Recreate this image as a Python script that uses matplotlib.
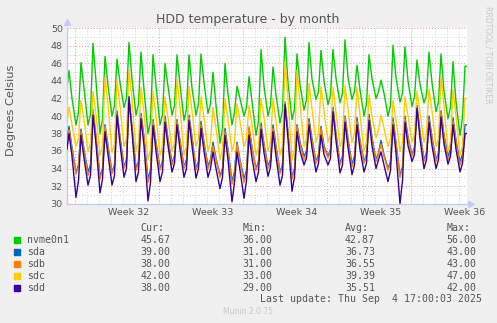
import numpy as np
import pandas as pd
import matplotlib
matplotlib.use("Agg")
import matplotlib.pyplot as plt

# graph window (munin "by month")
start = pd.Timestamp("2025-08-02 09:00")
end = pd.Timestamp("2025-09-04 17:00")

weeks = [32, 33, 34, 35, 36]
yticks = [30, 32, 34, 36, 38, 40, 42, 44, 46, 48, 50]

names = ["nvme0n1", "sda", "sdb", "sdc", "sdd"]
colors = ["#00CC00", "#0066B3", "#FF8000", "#FFCC00", "#330099"]

# daily readings: afternoon high (13:00), evening (19:00), night low (03:00), morning (08:00)
nvme_peak = [45.2, 46.1, 48.3, 46.8, 46.5, 48.4, 47.3, 47.0, 46.0, 47.0, 47.0, 47.1,
             45.0, 46.0, 43.4, 44.5, 47.6, 45.6, 49.0, 47.1, 48.4, 47.5, 47.6, 48.7,
             45.8, 47.0, 44.1, 48.1, 47.9, 46.4, 47.3, 47.1, 46.2, 45.7]
nvme_eve = [42.0, 43.2, 44.0, 43.5, 43.8, 44.2, 43.0, 43.5, 43.4, 43.6, 43.2, 43.8,
            41.2, 42.5, 42.0, 41.6, 43.4, 42.4, 43.8, 43.6, 44.2, 44.0, 44.3, 44.4,
            43.0, 44.3, 42.6, 44.4, 44.0, 43.6, 43.8, 42.8, 41.6]
nvme_low = [39.0, 39.0, 38.0, 40.0, 41.0, 40.1, 38.0, 39.0, 40.1, 39.5, 40.1, 40.3,
            36.9, 39.0, 40.0, 37.8, 40.0, 39.2, 39.6, 40.7, 41.9, 41.3, 41.5, 41.9,
            40.0, 42.0, 40.0, 41.6, 41.1, 41.5, 40.5, 39.7, 37.8]
nvme_morn = [40.4, 40.2, 39.6, 41.2, 42.0, 41.4, 39.4, 40.2, 41.2, 40.8, 41.4, 41.4,
             38.6, 40.4, 41.0, 39.4, 41.2, 40.6, 40.8, 41.8, 42.8, 42.4, 42.6, 42.8,
             41.4, 42.8, 41.2, 42.6, 42.2, 42.4, 41.6, 41.0, 39.8]

sda_peak = [38.8, 38.5, 40.6, 39.0, 40.6, 41.8, 40.3, 39.6, 40.0, 39.6, 40.1, 39.4,
            37.0, 38.6, 37.0, 38.6, 39.2, 39.0, 41.6, 39.0, 39.7, 38.8, 41.0, 40.0,
            39.8, 40.2, 37.2, 39.8, 40.0, 41.2, 40.0, 40.6, 39.8, 39.0]
sda_eve = [36.4, 36.2, 37.6, 36.6, 37.6, 38.8, 37.6, 37.0, 37.4, 37.2, 37.6, 37.0,
           35.2, 36.2, 35.0, 36.4, 36.8, 36.6, 38.2, 37.0, 37.4, 36.6, 38.0, 37.4,
           37.2, 37.6, 35.6, 37.0, 37.6, 38.2, 37.6, 37.8, 37.2]
sda_low = [33.5, 33.6, 33.0, 33.6, 34.2, 34.0, 32.8, 34.0, 34.6, 34.2, 34.0, 34.3,
           33.2, 32.5, 32.8, 34.0, 34.3, 33.6, 33.0, 35.4, 34.8, 35.4, 34.6, 34.5,
           34.8, 35.0, 34.0, 33.2, 35.6, 35.0, 35.0, 35.4, 34.8]
sda_morn = [34.4, 34.4, 34.0, 34.4, 35.0, 34.8, 33.8, 34.8, 35.4, 35.0, 34.8, 35.0,
            34.0, 33.6, 33.8, 34.8, 35.0, 34.4, 34.0, 36.0, 35.6, 36.2, 35.4, 35.4,
            35.6, 35.8, 34.8, 34.2, 36.4, 35.8, 35.8, 36.2, 35.6]

sdb_peak = [38.4, 38.2, 40.8, 38.8, 40.2, 42.0, 40.0, 39.4, 39.6, 39.4, 39.8, 39.0,
            36.6, 38.2, 36.8, 38.8, 38.8, 38.6, 41.4, 38.8, 39.4, 38.6, 40.8, 39.8,
            39.4, 39.8, 36.8, 39.4, 39.6, 41.0, 39.6, 40.4, 39.4, 38.0]
sdb_eve = [36.2, 36.0, 37.6, 36.4, 37.4, 38.6, 37.4, 36.8, 37.2, 37.0, 37.4, 36.8,
           35.0, 36.0, 34.8, 36.4, 36.6, 36.4, 38.0, 36.8, 37.2, 36.4, 37.8, 37.2,
           37.0, 37.4, 35.4, 36.8, 37.4, 38.0, 37.4, 37.6, 37.0]
sdb_low = [33.4, 33.2, 32.8, 33.4, 34.0, 33.8, 32.4, 33.8, 34.4, 34.0, 33.8, 34.0,
           33.0, 32.2, 32.4, 33.8, 34.0, 33.4, 32.8, 35.0, 34.6, 35.2, 34.4, 34.2,
           34.6, 34.8, 33.8, 33.0, 35.4, 34.8, 34.8, 35.0, 34.4]
sdb_morn = [34.2, 34.0, 33.8, 34.2, 34.8, 34.6, 33.4, 34.6, 35.2, 34.8, 34.6, 34.8,
            33.8, 33.2, 33.4, 34.6, 34.8, 34.2, 33.8, 35.8, 35.4, 36.0, 35.2, 35.0,
            35.4, 35.6, 34.6, 34.0, 36.2, 35.6, 35.6, 35.8, 35.2]

sdc_peak = [41.0, 41.8, 42.8, 44.5, 44.1, 45.3, 43.3, 42.8, 42.2, 44.2, 43.4, 42.2,
            41.0, 42.0, 41.4, 41.2, 42.0, 42.0, 46.2, 45.2, 43.7, 43.4, 43.3, 43.5,
            43.3, 42.4, 40.1, 41.8, 42.2, 42.8, 43.1, 44.5, 43.0, 42.0]
sdc_eve = [39.0, 39.6, 40.2, 41.4, 41.2, 41.8, 40.4, 40.0, 39.8, 41.0, 40.6, 39.8,
           38.6, 39.6, 39.4, 39.0, 39.8, 39.4, 42.0, 41.6, 40.8, 40.6, 40.4, 40.8,
           40.2, 40.0, 38.6, 39.6, 40.0, 40.4, 40.6, 41.2, 40.0]
sdc_low = [36.5, 36.0, 35.5, 35.8, 36.5, 36.0, 35.0, 35.5, 36.0, 35.5, 36.5, 36.0,
           35.0, 36.0, 36.5, 35.5, 36.0, 35.5, 35.0, 36.5, 37.0, 37.0, 36.5, 37.0,
           36.0, 37.5, 36.5, 36.0, 37.0, 37.0, 36.5, 36.0, 35.5]
sdc_morn = [37.4, 37.0, 36.6, 36.8, 37.4, 37.0, 36.2, 36.6, 37.0, 36.6, 37.4, 37.0,
            36.2, 37.0, 37.4, 36.6, 37.0, 36.6, 36.2, 37.4, 38.0, 38.0, 37.4, 38.0,
            37.0, 38.4, 37.4, 37.0, 38.0, 38.0, 37.4, 37.0, 36.6]

sdd_peak = [38.0, 37.8, 40.1, 38.2, 40.1, 42.2, 39.7, 38.9, 39.3, 39.0, 39.5, 38.6,
            35.9, 37.8, 35.9, 37.8, 38.5, 38.2, 41.3, 38.2, 39.0, 37.8, 40.5, 39.3,
            39.0, 39.5, 35.9, 39.0, 39.3, 40.9, 39.3, 39.9, 39.0, 38.0]
sdd_eve = [35.4, 35.2, 36.8, 35.6, 36.8, 38.2, 36.6, 36.0, 36.6, 36.2, 36.6, 36.0,
           34.0, 35.0, 33.8, 35.2, 35.8, 35.4, 37.4, 36.0, 36.4, 35.6, 37.2, 36.4,
           36.2, 36.6, 34.4, 35.8, 36.6, 37.4, 36.6, 36.8, 36.2]
sdd_low = [30.7, 32.1, 31.2, 32.1, 33.0, 32.5, 30.3, 32.5, 33.6, 33.0, 32.9, 33.0,
           31.7, 30.2, 30.6, 32.5, 33.1, 32.1, 31.4, 34.4, 33.6, 34.4, 33.5, 33.3,
           33.6, 34.0, 32.5, 30.0, 34.8, 34.0, 34.0, 34.5, 33.6]
sdd_morn = [32.6, 33.2, 32.8, 33.2, 34.0, 33.6, 32.4, 33.6, 34.6, 34.0, 34.0, 34.0,
            33.0, 32.4, 32.6, 33.6, 34.2, 33.2, 33.0, 35.2, 34.6, 35.2, 34.4, 34.4,
            34.6, 35.0, 33.8, 32.6, 35.6, 35.0, 35.0, 35.4, 34.6]

first_vals = [43.2, 37.0, 36.8, 39.5, 36.2]
cur = [45.67, 39.00, 38.00, 42.00, 38.00]
mins = [36.00, 31.00, 31.00, 33.00, 29.00]
avgs = [42.87, 36.73, 36.55, 39.39, 35.51]
maxs = [56.00, 43.00, 43.00, 47.00, 42.00]

daily = [
    (nvme_peak, nvme_eve, nvme_low, nvme_morn),
    (sda_peak, sda_eve, sda_low, sda_morn),
    (sdb_peak, sdb_eve, sdb_low, sdb_morn),
    (sdc_peak, sdc_eve, sdc_low, sdc_morn),
    (sdd_peak, sdd_eve, sdd_low, sdd_morn),
]

days = pd.date_range("2025-08-02", periods=34, freq="D")
hours = [13, 19, 27, 32]  # hour of each reading, counted from that day's midnight


def series(first, cols, last):
    t = [start]
    v = [first]
    for i, d in enumerate(days):
        for h, col in zip(hours, cols):
            if i < len(col):
                t.append(d + pd.Timedelta(hours=h))
                v.append(col[i])
    t.append(end)
    v.append(last)
    return t, v


W, H = 497, 323
fig = plt.figure(figsize=(W / 100, H / 100), dpi=100, facecolor="#F0F0F0")
ax = fig.add_axes([67 / W, (H - 203.5) / H, 400 / W, 175 / H])
ax.set_facecolor("white")

ax.set_xlim(start, end)
ax.set_ylim(30, 50)

# grid: grey dotted minor, red dotted major
dot = (0, (1, 2))
for d in pd.date_range("2025-08-03", "2025-09-04", freq="D"):
    sunday = d.dayofweek == 6
    ax.axvline(d, color="#E39A9A" if sunday else "#CFCFCF", lw=0.7, ls=dot, zorder=0)
for y in range(31, 51):
    ax.axhline(y, color="#E39A9A" if y % 2 == 0 else "#CFCFCF", lw=0.7, ls=dot, zorder=0)

for i in range(5):
    t, v = series(first_vals[i], daily[i], cur[i])
    ax.plot(t, v, color=colors[i], lw=1.0, zorder=2 + i)

for s in ["top", "right"]:
    ax.spines[s].set_visible(False)
for s in ["left", "bottom"]:
    ax.spines[s].set_color("#C8C8F4")
    ax.spines[s].set_linewidth(1.0)
ax.plot([0], [1.035], marker="^", ms=4, color="#C8C8F4", transform=ax.transAxes, clip_on=False)
ax.plot([1.01], [0], marker=">", ms=4, color="#C8C8F4", transform=ax.transAxes, clip_on=False)

ax.set_yticks(yticks)
ax.set_yticklabels([str(y) for y in yticks])
week_pos = [pd.Timestamp.fromisocalendar(2025, w, 1) + pd.Timedelta(hours=84) for w in weeks]
ax.set_xticks(week_pos)
ax.set_xticklabels(["Week %d" % w for w in weeks])
ax.tick_params(axis="both", length=0, labelsize=6.8, colors="#555555", pad=3)

fig.text(248 / W, 1 - 19 / H, "HDD temperature - by month", ha="center", va="center",
         fontsize=9, color="#555555")
fig.text(11 / W, 1 - 110 / H, "Degrees Celsius", rotation=90, ha="center", va="center",
         fontsize=8.2, color="#555555")
fig.text(488 / W, 1 - 6 / H, "RRDTOOL / TOBI OETIKER", rotation=270, ha="center", va="top",
         fontsize=5.5, color="#C8C8C8")

mono = "DejaVu Sans Mono"
fs = 7.1
tc = "#555555"
rows_y = [240, 252, 263.8, 275.8, 287.7]
for x, h in zip([140.7, 242.7, 345, 446.7], ["Cur:", "Min:", "Avg:", "Max:"]):
    fig.text(x / W, 1 - 227.7 / H, h, family=mono, fontsize=fs, color=tc, va="center")
for i in range(5):
    y = 1 - rows_y[i] / H
    fig.patches.append(plt.Rectangle((14 / W, y - 3 / H), 6 / W, 6 / H, color=colors[i],
                                     transform=fig.transFigure))
    fig.text(26.7 / W, y, names[i], family=mono, fontsize=fs, color=tc, va="center")
    for x, val in zip([140.7, 242.7, 345, 446.7], [cur[i], mins[i], avgs[i], maxs[i]]):
        fig.text(x / W, y, "%.2f" % val, family=mono, fontsize=fs, color=tc, va="center")
fig.text(482 / W, 1 - 299.3 / H, "Last update: Thu Sep  4 17:00:03 2025", family=mono,
         fontsize=fs, color=tc, va="center", ha="right")
fig.text(248 / W, 1 - 312 / H, "Munin 2.0.75", fontsize=5.5, color="#C8C8C8",
         ha="center", va="center")

fig.savefig("out.png", dpi=100, facecolor=fig.get_facecolor())
